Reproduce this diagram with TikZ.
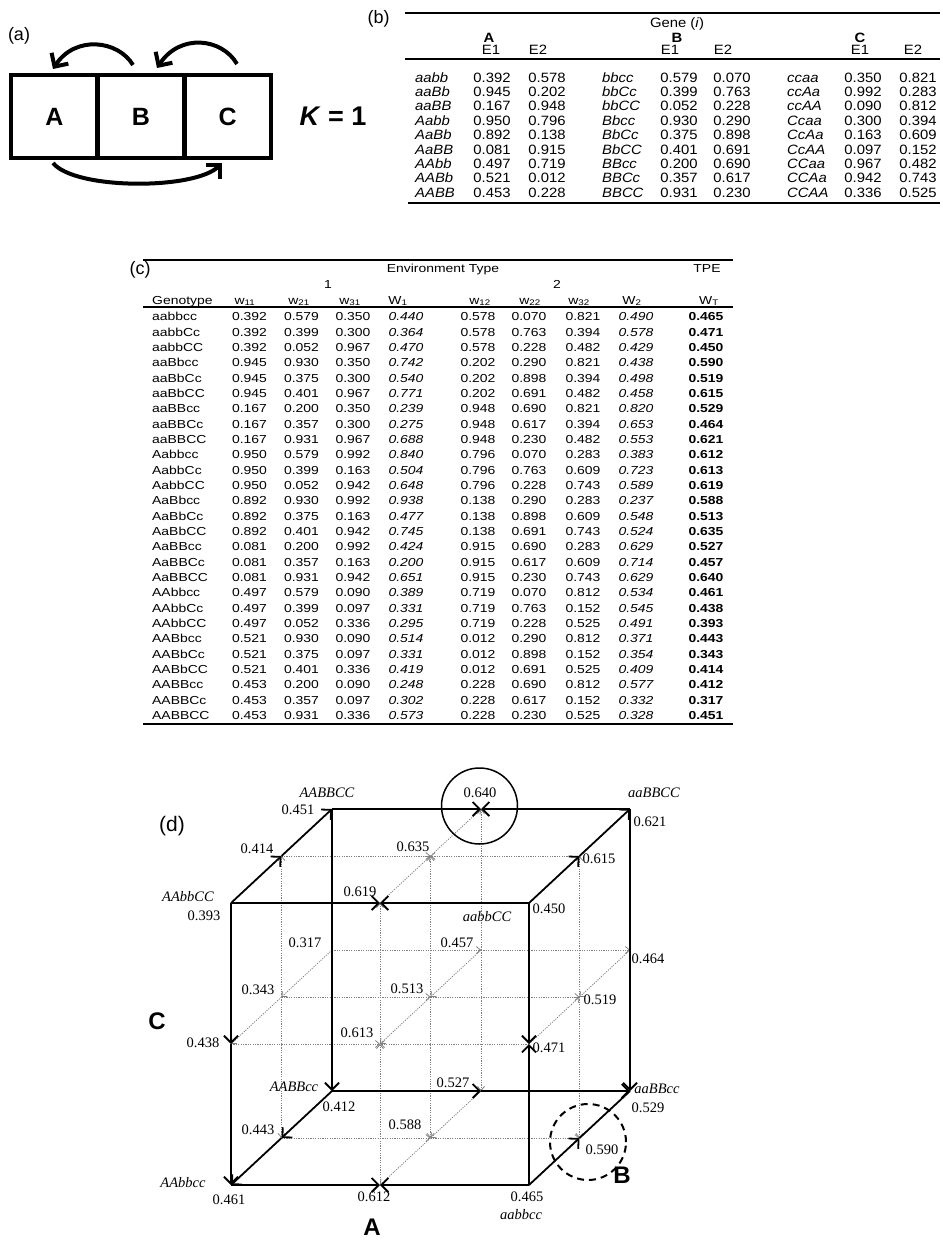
\documentclass[tikz,border=0pt]{standalone}
\usepackage{fontspec}
\setmainfont{Liberation Serif}
\newfontfamily\sansfont{Liberation Sans}
\newfontfamily\tabbfont[FakeStretch=1.1]{Liberation Sans}
\newfontfamily\tabcfont[FakeStretch=1.2]{Liberation Sans}
\usetikzlibrary{arrows.meta}

\tikzset{
  genbox/.style={draw, line width=4.5pt, minimum width=87pt, minimum height=83pt, inner sep=0pt,
    font=\sansfont\bfseries\fontsize{25}{25}\selectfont},
  looparrow/.style={line width=4pt, -{Straight Barb[length=10pt,width=20pt]}},
  panel/.style={font=\sansfont\fontsize{18}{18}\selectfont, inner sep=0pt},
  tabb/.style={font=\tabbfont\fontsize{13.5}{14}\selectfont, inner sep=0pt, text height=9.7pt, text depth=0pt},
  tabc/.style={font=\tabcfont\fontsize{11.6}{12}\selectfont, inner sep=0pt, text height=8.3pt, text depth=0pt},
  edge/.style={line width=1.8pt},
  edgearrow/.style={edge, -{Straight Barb[length=7pt,width=14pt]}},
  gridarrow/.style={gray, line width=0.8pt, dash pattern=on 1.2pt off 1.2pt, -{Straight Barb[length=4pt,width=7pt]}},
  value/.style={font=\fontsize{14.5}{15}\selectfont, inner sep=0pt, text height=9.8pt, text depth=0pt},
  corner/.style={value, font=\itshape\fontsize{14.5}{15}\selectfont},
  axislabel/.style={font=\sansfont\bfseries\fontsize{24}{24}\selectfont, inner sep=0pt}
}

\begin{document}
\begin{tikzpicture}[x=1pt, y=-1pt]
    \useasboundingbox (0,0) rectangle (942,1241);

    % (a) the three genes
    \node[panel] (la) at (19,36) {(a)};
    \node[genbox] (boxA) at (54.3,116.5) {A};
    \node[genbox] (boxB) at (141,116.5) {B};
    \node[genbox] (boxC) at (227.6,116.5) {C};
    \node[font=\sansfont\bfseries\fontsize{27}{27}\selectfont, inner sep=0pt] (kval) at (333,116) {\textit{K} = 1};
    \coordinate (fromB) at (133,65);  \coordinate (toA) at (53,69);
    \coordinate (fromC) at (237,64);  \coordinate (toB) at (157,68);
    \coordinate (fromA) at (53,163);  \coordinate (toC) at (222,163);
    \draw[looparrow] (fromB) .. controls (118,40) and (75,35) .. (toA);
    \draw[looparrow] (fromC) .. controls (222,38) and (180,33) .. (toB);
    \draw[looparrow] (fromA) .. controls (75,190) and (195,190) .. (toC);

    % (b) gene table
    \node[panel] (lb) at (378.5,18.5) {(b)};
    \path[draw, line width=2.5pt] (405,13) -- (940,13) % top
                                 (408,203) -- (940,203); % bottom
    \path[draw, line width=1.8pt] (405,59) -- (940,59); % under header
    \node[tabb] (gene) at (677,23) {Gene (\textit{i})};
    \node[tabb] (hA) at (489,38) {\bfseries A};
    \node[tabb] (hB) at (677,38) {\bfseries B};
    \node[tabb] (hC) at (860,38) {\bfseries C};
    \node[tabb] (hA1) at (491,50) {E1}; \node[tabb] (hA2) at (538,50) {E2};
    \node[tabb] (hB1) at (670,50) {E1}; \node[tabb] (hB2) at (723,50) {E2};
    \node[tabb] (hC1) at (860,50) {E1}; \node[tabb] (hC2) at (913,50) {E2};
    \foreach \ga/\xa/\ya/\gb/\xb/\yb/\gc/\xc/\yc [count=\r from 0] in {
        aabb/0.392/0.578/bbcc/0.579/0.070/ccaa/0.350/0.821,
        aaBb/0.945/0.202/bbCc/0.399/0.763/ccAa/0.992/0.283,
        aaBB/0.167/0.948/bbCC/0.052/0.228/ccAA/0.090/0.812,
        Aabb/0.950/0.796/Bbcc/0.930/0.290/Ccaa/0.300/0.394,
        AaBb/0.892/0.138/BbCc/0.375/0.898/CcAa/0.163/0.609,
        AaBB/0.081/0.915/BbCC/0.401/0.691/CcAA/0.097/0.152,
        AAbb/0.497/0.719/BBcc/0.200/0.690/CCaa/0.967/0.482,
        AABb/0.521/0.012/BBCc/0.357/0.617/CCAa/0.942/0.743,
        AABB/0.453/0.228/BBCC/0.931/0.230/CCAA/0.336/0.525}
    {
        \node[tabb, anchor=west] (b-\r-ga) at (415,{77.3+14.4*\r}) {\itshape\ga};
        \node[tabb] (b-\r-xa) at (492,{77.3+14.4*\r}) {\xa};
        \node[tabb] (b-\r-ya) at (547,{77.3+14.4*\r}) {\ya};
        \node[tabb, anchor=west] (b-\r-gb) at (602,{77.3+14.4*\r}) {\itshape\gb};
        \node[tabb] (b-\r-xb) at (679,{77.3+14.4*\r}) {\xb};
        \node[tabb] (b-\r-yb) at (732,{77.3+14.4*\r}) {\yb};
        \node[tabb, anchor=west] (b-\r-gc) at (787,{77.3+14.4*\r}) {\itshape\gc};
        \node[tabb] (b-\r-xc) at (863,{77.3+14.4*\r}) {\xc};
        \node[tabb] (b-\r-yc) at (918,{77.3+14.4*\r}) {\yc};
    }

    % (c) genotype table
    \node[panel] (lc) at (140,270) {(c)};
    \path[draw, line width=2.5pt] (143,260) -- (733,260) % top
                                 (143,724) -- (733,724); % bottom
    \path[draw, line width=1.5pt] (143,307) -- (733,307); % under header
    \node[tabc] (env) at (443,268) {Environment Type};
    \node[tabc] (tpe) at (707,268) {TPE};
    \node[tabc] (e1) at (328,284) {1};
    \node[tabc] (e2) at (557,284) {2};
    \node[tabc, anchor=west] (hg) at (152,300) {Genotype};
    \node[tabc] (h11) at (245,300) {w\textsubscript{11}};
    \node[tabc] (h21) at (299,300) {w\textsubscript{21}};
    \node[tabc] (h31) at (350,300) {w\textsubscript{31}};
    \node[tabc] (hW1) at (398,300) {W\textsubscript{1}};
    \node[tabc] (h12) at (480,300) {w\textsubscript{12}};
    \node[tabc] (h22) at (530,300) {w\textsubscript{22}};
    \node[tabc] (h32) at (579,300) {w\textsubscript{32}};
    \node[tabc] (hW2) at (632,300) {W\textsubscript{2}};
    \node[tabc] (hWT) at (709,300) {W\textsubscript{T}};
    \foreach \gt/\va/\vb/\vc/\vd/\ve/\vf/\vg/\vh/\vt [count=\r from 0] in {
        aabbcc/0.392/0.579/0.350/0.440/0.578/0.070/0.821/0.490/0.465,
        aabbCc/0.392/0.399/0.300/0.364/0.578/0.763/0.394/0.578/0.471,
        aabbCC/0.392/0.052/0.967/0.470/0.578/0.228/0.482/0.429/0.450,
        aaBbcc/0.945/0.930/0.350/0.742/0.202/0.290/0.821/0.438/0.590,
        aaBbCc/0.945/0.375/0.300/0.540/0.202/0.898/0.394/0.498/0.519,
        aaBbCC/0.945/0.401/0.967/0.771/0.202/0.691/0.482/0.458/0.615,
        aaBBcc/0.167/0.200/0.350/0.239/0.948/0.690/0.821/0.820/0.529,
        aaBBCc/0.167/0.357/0.300/0.275/0.948/0.617/0.394/0.653/0.464,
        aaBBCC/0.167/0.931/0.967/0.688/0.948/0.230/0.482/0.553/0.621,
        Aabbcc/0.950/0.579/0.992/0.840/0.796/0.070/0.283/0.383/0.612,
        AabbCc/0.950/0.399/0.163/0.504/0.796/0.763/0.609/0.723/0.613,
        AabbCC/0.950/0.052/0.942/0.648/0.796/0.228/0.743/0.589/0.619,
        AaBbcc/0.892/0.930/0.992/0.938/0.138/0.290/0.283/0.237/0.588,
        AaBbCc/0.892/0.375/0.163/0.477/0.138/0.898/0.609/0.548/0.513,
        AaBbCC/0.892/0.401/0.942/0.745/0.138/0.691/0.743/0.524/0.635,
        AaBBcc/0.081/0.200/0.992/0.424/0.915/0.690/0.283/0.629/0.527,
        AaBBCc/0.081/0.357/0.163/0.200/0.915/0.617/0.609/0.714/0.457,
        AaBBCC/0.081/0.931/0.942/0.651/0.915/0.230/0.743/0.629/0.640,
        AAbbcc/0.497/0.579/0.090/0.389/0.719/0.070/0.812/0.534/0.461,
        AAbbCc/0.497/0.399/0.097/0.331/0.719/0.763/0.152/0.545/0.438,
        AAbbCC/0.497/0.052/0.336/0.295/0.719/0.228/0.525/0.491/0.393,
        AABbcc/0.521/0.930/0.090/0.514/0.012/0.290/0.812/0.371/0.443,
        AABbCc/0.521/0.375/0.097/0.331/0.012/0.898/0.152/0.354/0.343,
        AABbCC/0.521/0.401/0.336/0.419/0.012/0.691/0.525/0.409/0.414,
        AABBcc/0.453/0.200/0.090/0.248/0.228/0.690/0.812/0.577/0.412,
        AABBCc/0.453/0.357/0.097/0.302/0.228/0.617/0.152/0.332/0.317,
        AABBCC/0.453/0.931/0.336/0.573/0.228/0.230/0.525/0.328/0.451}
    {
        \node[tabc, anchor=west] (c-\r-g) at (152,{316.7+15.33*\r}) {\gt};
        \node[tabc] (c-\r-1) at (249.5,{316.7+15.33*\r}) {\va};
        \node[tabc] (c-\r-2) at (301.5,{316.7+15.33*\r}) {\vb};
        \node[tabc] (c-\r-3) at (353,{316.7+15.33*\r}) {\vc};
        \node[tabc] (c-\r-4) at (406,{316.7+15.33*\r}) {\itshape\vd};
        \node[tabc] (c-\r-5) at (478,{316.7+15.33*\r}) {\ve};
        \node[tabc] (c-\r-6) at (529,{316.7+15.33*\r}) {\vf};
        \node[tabc] (c-\r-7) at (583,{316.7+15.33*\r}) {\vg};
        \node[tabc] (c-\r-8) at (636,{316.7+15.33*\r}) {\itshape\vh};
        \node[tabc] (c-\r-9) at (706,{316.7+15.33*\r}) {\bfseries\vt};
    }

    % (d) the genotype cube
    \node[panel, font=\sansfont\fontsize{21}{21}\selectfont] (ld) at (172,826) {(d)};
    \foreach \a in {0,1,2}
        \foreach \b in {0,1,2}
            \foreach \c in {0,1,2}
                \coordinate (p\a\b\c) at ({231+149*\a+50.5*\b},{1185-141*\c-47*\b});

    \foreach \pa/\pb in {p001/p101, p201/p101, p010/p110, p110/p210, p011/p111, p111/p211,
        p012/p112, p212/p112, p021/p121, p121/p221, p011/p001, p021/p011, p110/p100, p120/p110,
        p111/p101, p121/p111, p102/p112, p112/p122, p201/p211, p221/p211, p011/p010, p011/p012,
        p100/p101, p101/p102, p111/p110, p111/p112, p121/p120, p121/p122, p211/p210, p211/p212}
        \draw[gridarrow] (\pa) -- (\pb);

    \draw[edge] (p022) -- (p021) (p222) -- (p221) (p220) -- (p210);
    \foreach \pa/\pb in {p002/p012, p012/p022, p022/p122, p222/p122, p202/p212, p212/p222,
        p002/p102, p202/p102, p002/p001, p001/p000, p021/p020, p202/p201, p200/p201, p221/p220,
        p020/p120, p120/p220, p020/p010, p010/p000, p000/p100, p200/p100, p200/p210}
        \draw[edgearrow] (\pa) -- (\pb);

    \foreach \nm/\px/\py/\txt in {v022/298/810/0.451, v122/480/793/0.640, v222/650/822/0.621,
        v012/257/849/0.414, v112/413/847/0.635, v212/599/859/0.615, v002/204/916/0.393,
        v102/360/892/0.619, v202/549/909/0.450, v021/305/943/0.317, v121/457/943/0.457,
        v221/648/959/0.464, v011/258/990/0.343, v111/407/989/0.513, v211/600/1000/0.519,
        v001/203/1043/0.438, v101/357/1033/0.613, v201/549/1048/0.471, v020/339/1107/0.412,
        v120/453/1083/0.527, v220/648/1108/0.529, v010/258/1130/0.443, v110/405/1125/0.588,
        v210/602/1150/0.590, v000/229/1200/0.461, v100/374/1197/0.612, v200/527/1197/0.465}
        \node[value] (\nm) at (\px,\py) {\txt};

    \node[corner] (n022) at (327,793) {AABBCC};
    \node[corner] (n222) at (654,793) {aaBBCC};
    \node[corner] (n002) at (188,897) {AAbbCC};
    \node[corner] (n202) at (487,917) {aabbCC};
    \node[corner] (n020) at (294,1087) {AABBcc};
    \node[corner] (n220) at (657,1089) {aaBBcc};
    \node[corner] (n000) at (183,1183) {AAbbcc};
    \node[corner] (n200) at (521,1215) {aabbcc};

    \node[draw, circle, line width=1.5pt, minimum size=76pt] (peak) at (479.5,806) {};
    \node[draw, circle, line width=2pt, dash pattern=on 7pt off 5pt, minimum size=76pt] (peakB) at (588,1142) {};

    \node[axislabel] (axC) at (157,1021) {C};
    \node[axislabel] (axA) at (372,1227) {A};
    \node[axislabel] (axB) at (622,1175) {B};
\end{tikzpicture}
\end{document}
